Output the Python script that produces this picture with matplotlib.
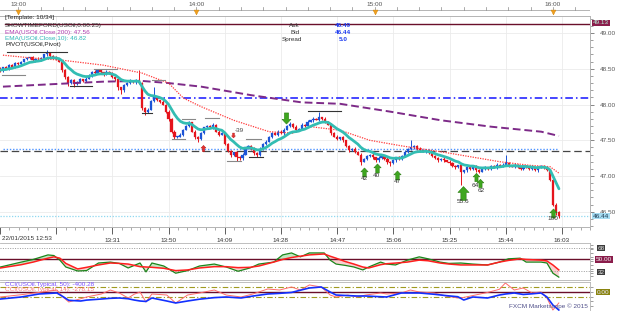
import numpy as np
import pandas as pd
import matplotlib
matplotlib.use('Agg')
import matplotlib.pyplot as plt
from matplotlib.path import Path
from matplotlib.ticker import MultipleLocator, FixedLocator

plt.rcParams['font.family'] = ['Liberation Sans', 'DejaVu Sans']

W, H = 625, 311

# ---------------- data ----------------
first_open = 48.50
closes = [
    48.48, 48.52, 48.50, 48.55, 48.53, 48.58, 48.56, 48.60, 48.63, 48.65,
    48.66, 48.62, 48.64, 48.63, 48.65, 48.70, 48.72, 48.68, 48.66, 48.63,
    48.60, 48.48, 48.38, 48.30, 48.34, 48.28, 48.32, 48.35, 48.33, 48.36,
    48.40, 48.46, 48.44, 48.48, 48.45, 48.42, 48.46, 48.44, 48.38, 48.35,
    48.24, 48.20, 48.27, 48.30, 48.33, 48.31, 48.34, 48.30, 47.95, 47.90,
    47.93, 48.05, 48.10, 48.06, 48.04, 48.00, 47.90, 47.80, 47.62, 47.55,
    47.55, 47.58, 47.65, 47.70, 47.75, 47.62, 47.55, 47.52, 47.60, 47.68,
    47.70, 47.68, 47.72, 47.62, 47.58, 47.60, 47.45, 47.35, 47.30, 47.33,
    47.27, 47.25, 47.30, 47.40, 47.42, 47.38, 47.32, 47.30, 47.38, 47.45,
    47.48, 47.55, 47.60, 47.58, 47.62, 47.60, 47.65, 47.70, 47.73, 47.68,
    47.64, 47.66, 47.72, 47.70, 47.76, 47.78, 47.80, 47.79, 47.82, 47.80,
    47.76, 47.72, 47.60, 47.55, 47.52, 47.54, 47.50, 47.42, 47.36, 47.38,
    47.34, 47.30, 47.20, 47.24, 47.28, 47.30, 47.26, 47.22, 47.25, 47.28,
    47.24, 47.20, 47.18, 47.22, 47.26, 47.24, 47.28, 47.34, 47.38, 47.40,
    47.42, 47.38, 47.36, 47.34, 47.36, 47.32, 47.28, 47.25, 47.22, 47.24,
    47.22, 47.20, 47.18, 47.14, 47.12, 47.15, 47.05, 47.08, 47.12, 47.10,
    47.14, 47.08, 47.06, 47.10, 47.12, 47.10, 47.14, 47.12, 47.16, 47.14,
    47.16, 47.18, 47.15, 47.13, 47.16, 47.12, 47.10, 47.14, 47.13, 47.10,
    47.12, 47.08, 47.12, 47.14, 47.12, 47.08, 46.95, 46.60, 46.50, 46.44,
]
# upper / lower wick lengths in cents
wick_up = [
    2, 1, 2, 1, 2, 1, 2, 1, 1, 2,   1, 2, 1, 2, 2, 1, 4, 2, 1, 2,
    1, 2, 1, 2, 1, 2, 1, 2, 1, 2,   2, 1, 2, 1, 2, 1, 2, 1, 2, 1,
    2, 1, 2, 1, 2, 1, 2, 14, 2, 1,  2, 1, 14, 2, 1, 2, 1, 2, 1, 2,
    1, 2, 1, 2, 2, 1, 2, 1, 2, 1,   2, 1, 2, 1, 2, 1, 2, 1, 2, 1,
    2, 1, 2, 1, 2, 1, 2, 1, 2, 1,   2, 1, 2, 1, 2, 3, 2, 1, 2, 1,
    3, 1, 2, 1, 2, 1, 2, 1, 8, 1,   2, 1, 2, 1, 2, 1, 2, 1, 2, 1,
    2, 1, 2, 1, 2, 1, 2, 1, 3, 2,   1, 2, 1, 2, 1, 2, 1, 2, 1, 10,
    2, 1, 2, 1, 2, 1, 2, 1, 2, 1,   2, 1, 2, 1, 2, 1, 2, 1, 2, 1,
    2, 1, 2, 1, 2, 1, 2, 1, 2, 1,   2, 11, 2, 1, 2, 1, 2, 1, 2, 1,
    2, 1, 2, 1, 2, 1, 2, 2, 2, 1,
]
wick_dn = [
    3, 2, 1, 2, 1, 2, 1, 2, 1, 1,   2, 1, 2, 1, 2, 1, 2, 1, 2, 1,
    1, 2, 3, 4, 2, 3, 1, 2, 1, 2,   1, 2, 1, 2, 1, 2, 1, 2, 1, 2,
    3, 5, 2, 1, 2, 1, 2, 1, 3, 5,   2, 1, 2, 1, 2, 1, 2, 3, 2, 3,
    2, 1, 2, 1, 2, 1, 3, 4, 2, 1,   2, 1, 2, 1, 2, 1, 2, 1, 3, 2,
    6, 2, 2, 1, 2, 1, 2, 3, 2, 1,   2, 1, 2, 1, 2, 1, 2, 1, 2, 1,
    2, 1, 2, 1, 2, 1, 2, 1, 2, 1,   2, 1, 2, 1, 2, 1, 2, 1, 2, 1,
    2, 1, 5, 1, 2, 1, 2, 3, 2, 1,   2, 3, 4, 1, 2, 1, 2, 1, 2, 1,
    2, 1, 2, 1, 2, 1, 2, 1, 2, 1,   2, 1, 2, 1, 2, 1, 18, 1, 2, 1,
    2, 3, 2, 1, 2, 1, 2, 1, 2, 1,   2, 1, 2, 1, 2, 1, 2, 1, 2, 1,
    2, 1, 2, 1, 2, 1, 2, 2, 4, 3,
]

ema200_t = [1, 35, 48, 57, 68, 85, 102, 115, 132, 149, 166, 183, 189]
ema200_v = [48.25, 48.32, 48.33, 48.30, 48.25, 48.13, 48.03, 48.01, 47.90, 47.78, 47.69, 47.62, 47.56]

ema50_t = [1, 11, 21, 35, 48, 57, 62, 68, 79, 91, 99, 105, 115, 125, 136, 149, 159, 169, 179, 186, 189]
ema50_v = [48.69, 48.65, 48.62, 48.55, 48.44, 48.30, 48.09, 47.97, 47.78, 47.62, 47.60, 47.69, 47.64,
           47.50, 47.42, 47.34, 47.27, 47.20, 47.15, 47.13, 47.04]

levels = {'top': 49.13, 'dashdot': 48.09, 'blue_dot': 47.38, 'pivot': 47.35, 'bid': 46.44}

sr_segments = [  # (start idx, end idx, price, colour)
    (2.5, 22.7, 48.74, '#333333'), (0.8, 8.6, 48.41, '#888888'), (23.7, 31.1, 48.26, '#333333'),
    (31.8, 39.6, 48.50, '#888888'), (48.0, 51.3, 47.88, '#333333'), (51.3, 55.7, 48.34, '#888888'),
    (58.1, 62.5, 47.52, '#888888'), (61.4, 65.8, 47.80, '#888888'), (69.2, 74.2, 47.81, '#888888'),
    (76.6, 81.6, 47.21, '#888888'), (83.3, 88.4, 47.52, '#888888'), (84.3, 89.0, 47.27, '#333333'),
    (104.2, 115.3, 47.91, '#333333'),
]

up_signals = [  # (idx, price, size, label, label idx, label price)
    (123.1, 47.06, 6.5, '42', 123.1, 46.97), (127.4, 47.11, 6.5, '40', 127.4, 47.01),
    (134.2, 47.01, 6.5, '47', 134.2, 46.92), (156.7, 46.76, 10, '55.6', 156.7, 46.65),
    (161.1, 46.98, 6.0, '64', 160.8, 46.87), (162.2, 46.90, 6.0, '62', 162.6, 46.80),
    (187.0, 46.48, 6.5, '100', 187.0, 46.40),
]
down_signal = (96.8, 47.81, 8)

osc_t = [1, 8, 12, 17, 19, 21, 23, 27, 30, 34, 38, 41, 44, 48, 50, 52, 56, 60, 64, 68, 73, 77, 81, 85,
         88, 93, 96, 99, 102, 105, 110, 112, 114, 117, 120, 123, 125, 129, 131, 134, 138, 142, 145,
         149, 152, 156, 160, 165, 169, 172, 176, 178, 183, 185, 187, 189]
osc_fast = [38.5, 46, 50, 57, 56, 49, 38.5, 32.4, 33, 44.6, 46, 44, 37, 44.6, 31, 44.6, 40, 29, 33, 40,
            43, 38.5, 32, 37, 43, 46, 57, 60, 54, 60, 60, 49, 43, 41, 38.5, 34, 38.5, 46, 43, 41.6, 49,
            54, 51, 46, 44, 44.6, 43, 41.6, 46, 51, 52, 46, 46, 44.6, 29, 23]
osc_slow = [37, 42, 46, 52, 54, 52, 44, 35.5, 38, 41.6, 44.6, 44, 43, 39, 38.5, 38, 36.5, 33, 34, 37,
            39, 39, 37.5, 38, 40, 46, 50, 53, 55, 57, 58.4, 55, 52, 47, 43, 38.5, 37, 42, 43.5, 44.5,
            46, 49, 48, 44.6, 43, 41.6, 41.6, 41.6, 46, 48.5, 51, 50, 49, 47.7, 41.6, 34]

cci_t = [1, 8, 14, 20, 22, 24, 28, 30, 35, 38, 41, 44, 46, 48, 50, 52, 57, 60, 64, 68, 73, 77, 82, 86,
         91, 95, 99, 102, 105, 109, 112, 114, 118, 121, 124, 129, 131, 136, 139, 142, 147, 151, 155,
         157, 160, 165, 169, 171, 174, 177, 180, 183, 185, 187, 189]
cci50 = [-156, -111, -44, -22, -100, -185, -200, -180, -156, -140, -133, -150, -178, -200, -210, -133,
         -200, -244, -200, -160, -125, -111, -133, -90, -44, -30, -10, 40, 89, 111, 0, -67, -80, -89,
         -89, -105, -111, -22, -22, -22, -50, -80, -105, -178, -111, -133, -67, -45, -22, -55, -40,
         -22, -111, -289, -400]
cci14 = [-111, -60, -10, 44, -111, -222, -150, -111, -44, 44, -22, -133, -50, 0, -222, -44, -67, -244,
         -67, -22, 44, -67, -111, -44, 67, 44, 111, 44, 156, 111, -67, -111, -67, -111, -67, -22, -44,
         -22, 44, 0, -22, -89, -133, -120, -80, -10, 60, 200, 44, 89, -22, 0, -133, -400, -244]

bottom_ticks = [0, 19, 38, 57, 76, 95, 114, 133, 152, 171, 190]
bottom_labels = ['22/01/2015 12:53', '', '13:31', '13:50', '14:09', '14:28', '14:47',
                 '15:06', '15:25', '15:44', '16:03']
top_ticks = [7, 67, 127, 187]
top_labels = ['13:00', '14:00', '15:00', '16:00']
price_ticks = [46.5, 47.0, 47.5, 48.0, 48.5, 49.0]

# ---------------- helpers ----------------
XL = (0.85, 199.5)


def rect(x0, y0, x1, y1):
    return [x0 / W, 1 - y1 / H, (x1 - x0) / W, (y1 - y0) / H]


fig = plt.figure(figsize=(W / 100, H / 100), dpi=100)
fig.patch.set_facecolor('white')


def ptxt(x, y, s, **kw):
    kw.setdefault('va', 'center')
    kw.setdefault('fontsize', 4.6)
    return fig.text(x / W, 1 - y / H, s, **kw)


FS = 4.6
GRID = '#ebebeb'
SPINE = '#b4b4b4'

# ---------------- main price panel ----------------
ax = fig.add_axes(rect(0, 16, 590, 227))
ax.set_xlim(*XL)
ax.set_ylim(46.287, 49.238)
ax.spines['left'].set_visible(False)
for s in ['top', 'bottom', 'right']:
    ax.spines[s].set_color(SPINE)
    ax.spines[s].set_linewidth(0.7)

for t in bottom_ticks[1:]:
    ax.axvline(t, color=GRID, lw=0.6, zorder=0)
for p in price_ticks:
    ax.axhline(p, color=GRID, lw=0.6, zorder=0)

n = len(closes)
idx = np.arange(n)
c = np.array(closes)
o = np.r_[first_open, c[:-1]]
hi = np.maximum(o, c) + np.array(wick_up) / 100.0
lo = np.minimum(o, c) - np.array(wick_dn) / 100.0
up = c >= o
col = np.where(up, '#1c54d6', '#e5141c')
ax.vlines(idx, lo, hi, colors=col, lw=0.7, zorder=3)
ax.bar(idx, np.maximum(np.abs(c - o), 0.008), bottom=np.minimum(o, c), width=0.74,
       color=col, edgecolor=col, linewidth=0.2, zorder=4)

# horizontal levels
ax.axhline(levels['top'], xmin=5 / 590, color='#6a0f2a', lw=1.0, zorder=2)
ax.axhline(levels['dashdot'], color='#1414ff', lw=1.1, ls=(0, (5, 2, 1, 2)), zorder=2)
ax.plot([XL[0], 188.7], [levels['blue_dot']] * 2, color='#4f94ff', lw=1.0, ls=(0, (1, 1.3)), zorder=2)
ax.axhline(levels['pivot'], color='#454545', lw=0.9, ls=(0, (6, 3)), zorder=2)
ax.axhline(levels['bid'], color='#8fd8f0', lw=0.9, ls=(0, (1, 1.3)), zorder=2)

# moving averages
ax.plot(ema200_t, ema200_v, color='#7d2a88', lw=1.4, ls=(0, (4, 2)), zorder=5)
ax.plot(ema50_t, ema50_v, color='#ff3a3a', lw=0.9, ls=(0, (1, 1)), zorder=5)
ema10 = pd.Series(c).ewm(span=10, adjust=False).mean().values
ax.plot(idx, ema10, color='#33bdb3', lw=2.0, zorder=6, solid_capstyle='round')

# support / resistance segments
for x0, x1, p, cc in sr_segments:
    ax.plot([x0, x1], [p, p], color=cc, lw=0.8, zorder=5)

# arrow markers
arr_up = Path([(0, 1), (0.8, 0.15), (0.38, 0.15), (0.38, -1), (-0.38, -1), (-0.38, 0.15),
               (-0.8, 0.15), (0, 1)],
              [Path.MOVETO] + [Path.LINETO] * 6 + [Path.CLOSEPOLY])
arr_dn = Path([(x, -y) for x, y in arr_up.vertices], arr_up.codes)
for xi, pi, sz, lab, lx, ly in up_signals:
    ax.plot(xi, pi, marker=arr_up, ms=sz, mfc='#3ea61f', mec='#2b7d12', mew=0.4, zorder=8)
    ax.text(lx, ly, lab, fontsize=FS, color='#333333', ha='center', va='center', zorder=9)
ax.plot(down_signal[0], down_signal[1], marker=arr_dn, ms=down_signal[2], mfc='#3ea61f',
        mec='#2b7d12', mew=0.4, zorder=8)
ax.plot(68.5, 47.39, marker=arr_up, ms=4.5, mfc='#e53030', mec='#b01010', mew=0.3, zorder=8)
ax.plot(78.8, 47.57, marker=arr_dn, ms=3.5, mfc='#e53030', mec='#b01010', mew=0.3, zorder=8)
ax.text(79.5, 47.64, '-39', fontsize=FS, color='#444444', ha='left', va='center', zorder=9)

# axes ticks
ax.yaxis.tick_right()
ax.set_yticks(price_ticks)
ax.set_yticklabels(['%.2f' % p for p in price_ticks])
ax.yaxis.set_minor_locator(MultipleLocator(0.1))
ax.tick_params(axis='y', which='major', labelsize=FS, colors='#555555', length=3, width=0.5, pad=4)
ax.tick_params(axis='y', which='minor', colors='#777777', length=2, width=0.5)
ax.set_xticks(bottom_ticks)
ax.set_xticklabels([''] + bottom_labels[1:])
ax.xaxis.set_minor_locator(FixedLocator([t + k * 19 / 6 for t in bottom_ticks for k in range(1, 6)]))
ax.tick_params(axis='x', which='major', labelsize=FS, colors='#444444', length=5, width=0.6, pad=3)
ax.tick_params(axis='x', which='minor', colors='#888888', length=2.5, width=0.5)
for lbl in ax.get_xticklabels():
    lbl.set_color('#333333')
ptxt(2, 239, bottom_labels[0], color='#333333', ha='left')

# right price boxes
ptxt(601, 23, '%.2f' % levels['top'], color='#b8f5dc', ha='center', fontsize=FS,
     bbox=dict(boxstyle='square,pad=0.15', fc='#8a1d4b', ec='none'))
ptxt(601, 216, '%.2f' % levels['bid'], color='#1f3a52', ha='center', fontsize=FS,
     bbox=dict(boxstyle='square,pad=0.15', fc='#a6dcf2', ec='none'))

# ---------------- top time axis ----------------
tax = fig.add_axes(rect(0, 0, 590, 16))
tax.set_xlim(*XL)
tax.set_ylim(16, 0)
tax.axis('off')
tax.plot(XL, [9.5, 9.5], color='#a8a8a8', lw=0.6)
for k in range(-1, 27):
    t = 7 + k * 7.5
    if XL[0] <= t <= XL[1]:
        tax.plot([t, t], [9.5, 7.3], color='#8a8a8a', lw=0.5)
for t, lab in zip(top_ticks, top_labels):
    tax.text(t, 4.8, lab, fontsize=FS, color='#555555', ha='center', va='center')
    tax.plot(t, 12, marker='v', ms=3.5, color='#f0a020', mec='#d08000', mew=0.3)

# legend texts
ptxt(5, 18, '[Template: 10/34]', color='#222222', ha='left')
ptxt(5, 25.5, 'SHOWTIMEFORD(USOil,0:00:25)', color='#333333', ha='left')
ptxt(5, 32.3, 'EMA(USOil.Close,200): 47.56', color='#b03cb0', ha='left')
ptxt(5, 38.5, 'EMA(USOil.Close,10): 46.82', color='#30b8b8', ha='left')
ptxt(5, 44.8, 'PIVOT(USOil,Pivot)', color='#222222', ha='left')

ptxt(300, 25.5, 'Ask', color='#333333', ha='right')
ptxt(300, 32.3, 'Bid', color='#333333', ha='right')
ptxt(302, 39.5, 'Spread', color='#333333', ha='right')
ptxt(343, 25.5, '46.49', color='#1e3cf0', ha='center', fontweight='bold')
ptxt(343, 32.3, '46.44', color='#1e3cf0', ha='center', fontweight='bold')
ptxt(343, 39.5, '5.0', color='#1e3cf0', ha='center', fontweight='bold')

# ---------------- oscillator panel ----------------
ax2 = fig.add_axes(rect(0, 243, 590, 280))
ax2.set_xlim(*XL)
ax2.set_ylim(18.6, 75.2)
ax2.spines['left'].set_visible(False)
for s in ['top', 'bottom', 'right']:
    ax2.spines[s].set_color(SPINE)
    ax2.spines[s].set_linewidth(0.6)
ax2.set_xticks([])
ax2.yaxis.tick_right()
ax2.set_yticks([68, 50, 32])
ax2.set_yticklabels([])
ax2.yaxis.set_minor_locator(MultipleLocator(6))
ax2.tick_params(axis='y', which='both', colors='#777777', length=2.5, width=0.5)
ax2.axhline(68, color='#9a9a9a', lw=0.7, ls=(0, (1, 1.5)))
ax2.axhline(32, color='#9a9a9a', lw=0.7, ls=(0, (1, 1.5)))
ax2.axhline(50, color='#6a0f2a', lw=1.0)
f = np.array(osc_fast)
sl = np.array(osc_slow)
ax2.fill_between(osc_t, f, sl, where=f >= sl, interpolate=True, color='#8fd68f', alpha=0.55, lw=0)
ax2.fill_between(osc_t, f, sl, where=f < sl, interpolate=True, color='#f6a8a8', alpha=0.55, lw=0)
ax2.plot(osc_t, osc_fast, color='#1b861b', lw=0.9)
ax2.plot(osc_t, osc_slow, color='#ff1f1f', lw=1.1)
ptxt(601, 248, '68', color='#dddddd', ha='center',
     bbox=dict(boxstyle='square,pad=0.12', fc='#3c3c3c', ec='none'))
ptxt(604, 259.5, '50.00', color='#f0f0f0', ha='center',
     bbox=dict(boxstyle='square,pad=0.15', fc='#8a1d4b', ec='none'))
ptxt(601, 272, '32', color='#dddddd', ha='center',
     bbox=dict(boxstyle='square,pad=0.12', fc='#3c3c3c', ec='none'))

# ---------------- CCI panel ----------------
ax3 = fig.add_axes(rect(0, 282, 590, 311))
ax3.set_xlim(*XL)
ax3.set_ylim(-422, 222)
for s in ['left', 'bottom']:
    ax3.spines[s].set_visible(False)
for s in ['top', 'right']:
    ax3.spines[s].set_color(SPINE)
    ax3.spines[s].set_linewidth(0.6)
ax3.set_xticks([])
ax3.yaxis.tick_right()
ax3.set_yticks([100, 0, -100, -200, -300])
ax3.set_yticklabels([])
ax3.tick_params(axis='y', colors='#777777', length=2.5, width=0.5)
ax3.axhline(100, color='#a09a20', lw=0.8, ls=(0, (5, 2, 1, 2)))
ax3.axhline(-100, color='#a09a20', lw=0.8, ls=(0, (5, 2, 1, 2)))
ax3.axhline(0, color='#6a0f2a', lw=1.0)
ax3.plot(cci_t, cci14, color='#ff6a6a', lw=0.7)
ax3.plot(cci_t, cci50, color='#1230ff', lw=1.2)
ptxt(5, 284.5, 'CCI(USOil.Typical, 50): -400.28', color='#7a4cff', ha='left')
ptxt(5, 290, 'CCI(USOil.Typical, 14): -278.15', color='#ff5a5a', ha='left', alpha=0.8)
ptxt(603, 292, '0.00', color='#e8e8ff', ha='center',
     bbox=dict(boxstyle='square,pad=0.15', fc='#8a8410', ec='none'))
ptxt(588, 306.5, 'FXCM Marketscope \u00a9 2015', color='#50508a', ha='right')

fig.savefig('out.png', dpi=100, facecolor='white')
